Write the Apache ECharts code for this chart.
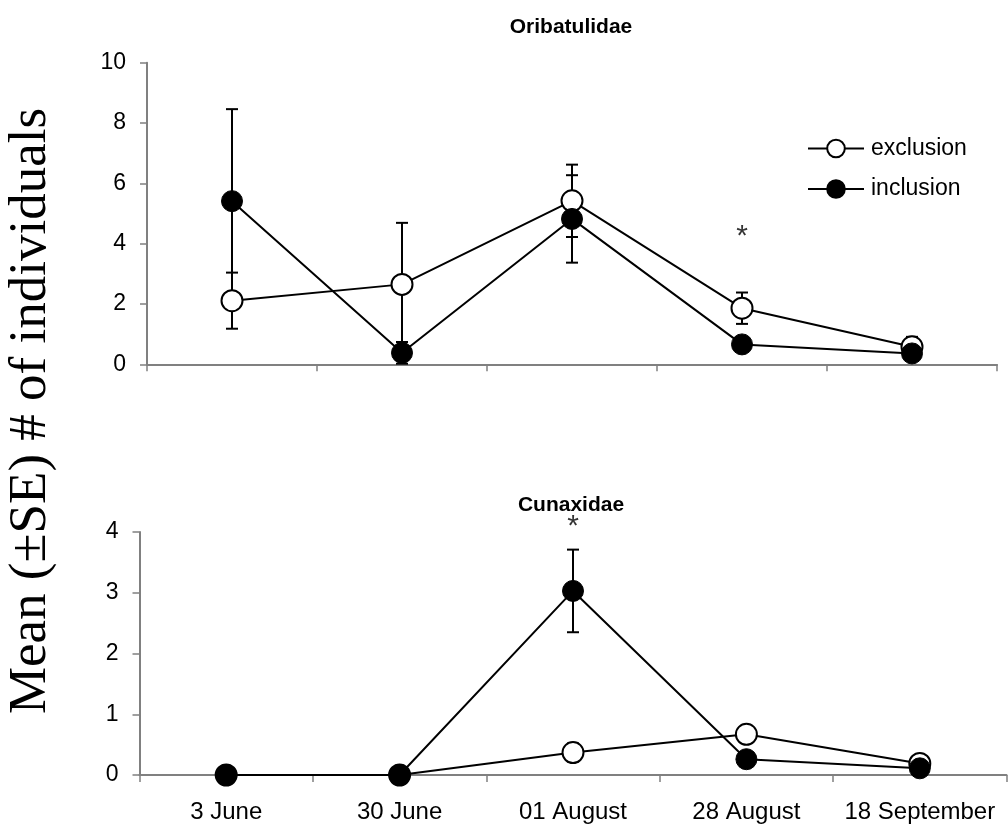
<!DOCTYPE html>
<html>
<head>
<meta charset="utf-8">
<script src="https://cdn.jsdelivr.net/npm/echarts@6/dist/echarts.min.js"></script>
<style>
html,body{margin:0;padding:0;background:#fff;}
#chart{width:1008px;height:827px;}
</style>
</head>
<body>
<div id="chart"></div>
<script>
const categories = ['3 June', '30 June', '01 August', '28 August', '18 September'];
const seriesNames = ['exclusion', 'inclusion'];

const oribExcl   = [2.11, 2.65, 5.42, 1.86, 0.58];
const oribExclSE = [0.93, 2.04, 1.20, 0.52, 0.33];
const oribIncl   = [5.41, 0.38, 4.82, 0.66, 0.36];
const oribInclSE = [3.05, 0.36, 1.45, 0.10, 0.10];

const cunaExcl   = [0, 0, 0.37, 0.67, 0.19];
const cunaExclSE = [0, 0, 0.15, 0.14, 0.05];
const cunaIncl   = [0, 0, 3.03, 0.26, 0.11];
const cunaInclSE = [0, 0, 0.68, 0.12, 0.05];

const oribStar = [null, null, null, 4.45, null];
const cunaStar = [null, null, 4.2, null, null];

const topTicks = [0, 2, 4, 6, 8, 10];
const bottomTicks = [0, 1, 2, 3, 4];

const titles = ['Oribatulidae', 'Cunaxidae'];
const yLabel = 'Mean (\u00B1SE) # of individuals';

const SANS = "'Liberation Sans', Arial, sans-serif";
const SERIF = "'Liberation Serif', 'Times New Roman', serif";
const AXIS_GRAY = '#808080';

function errData(means, se) {
  return means.map((m, i) => [i, m - se[i], m + se[i]]);
}
function errRender(params, api) {
  const x = api.value(0), lo = api.value(1), hi = api.value(2);
  if (hi - lo <= 0) return null;
  const pHi = api.coord([x, hi]);
  const pLo = api.coord([x, lo]);
  const w = 6;
  const st = { stroke: '#000', lineWidth: 2 };
  return {
    type: 'group',
    children: [
      { type: 'line', shape: { x1: pHi[0], y1: pHi[1], x2: pLo[0], y2: pLo[1] }, style: st },
      { type: 'line', shape: { x1: pHi[0] - w, y1: pHi[1], x2: pHi[0] + w, y2: pHi[1] }, style: st },
      { type: 'line', shape: { x1: pLo[0] - w, y1: pLo[1], x2: pLo[0] + w, y2: pLo[1] }, style: st }
    ]
  };
}

const exclStyle = { color: '#fff', borderColor: '#000', borderWidth: 2 };
const inclStyle = { color: '#000', borderColor: '#000', borderWidth: 1 };

function lineSeries(name, data, idx, itemStyle, z) {
  return {
    type: 'line', name: name, data: data,
    xAxisIndex: idx, yAxisIndex: idx,
    symbol: 'circle', symbolSize: 21,
    lineStyle: { color: '#000', width: 2 },
    itemStyle: itemStyle,
    z: z, animation: false, clip: false
  };
}
function errSeries(name, means, se, idx) {
  return {
    type: 'custom', name: name + ' SE', renderItem: errRender,
    data: errData(means, se), xAxisIndex: idx, yAxisIndex: idx,
    z: 1, animation: false, clip: false, silent: true
  };
}
function starSeries(data, idx) {
  return {
    type: 'scatter', data: data, xAxisIndex: idx, yAxisIndex: idx,
    symbolSize: 0, clip: false, silent: true, animation: false,
    label: { show: true, formatter: '*', position: 'inside', color: '#000',
      fontFamily: SANS, fontSize: 30, offset: [0, 7] }
  };
}

function yAxis(idx, ticks) {
  return {
    type: 'value', gridIndex: idx,
    min: ticks[0], max: ticks[ticks.length - 1], interval: ticks[1] - ticks[0],
    axisLine: { show: true, lineStyle: { color: AXIS_GRAY, width: 2 } },
    axisTick: { show: true, length: 7, lineStyle: { color: AXIS_GRAY, width: 1.5 } },
    axisLabel: { color: '#000', fontFamily: SANS, fontSize: 23, margin: 21 },
    splitLine: { show: false }
  };
}
function xAxis(idx, showLabels) {
  return {
    type: 'category', gridIndex: idx, data: categories, boundaryGap: true,
    axisLine: { show: true, lineStyle: { color: AXIS_GRAY, width: 2 } },
    axisTick: { show: true, length: 7, lineStyle: { color: AXIS_GRAY, width: 1.5 } },
    axisLabel: { show: showLabels, color: '#000', fontFamily: SANS, fontSize: 24, margin: 25, interval: 0 },
    splitLine: { show: false }
  };
}

const chart = echarts.init(document.getElementById('chart'), null, { renderer: 'canvas' });
chart.setOption({
  backgroundColor: '#fff',
  animation: false,
  grid: [
    { left: 147, right: 11, top: 62.7, bottom: 462.7 },
    { left: 139.5, right: 1.5, top: 532, bottom: 52 }
  ],
  xAxis: [xAxis(0, false), xAxis(1, true)],
  yAxis: [yAxis(0, topTicks), yAxis(1, bottomTicks)],
  legend: {
    data: seriesNames, orient: 'vertical', left: 807, top: 137, padding: 0,
    itemWidth: 56, itemHeight: 22, itemGap: 17.5,
    textStyle: { color: '#000', fontFamily: SANS, fontSize: 23, lineHeight: 22, padding: [0, 0, 0, 2] },
    selectedMode: false
  },
  graphic: [
    { type: 'text', x: 571, y: 27, style: { text: titles[0], fontFamily: SANS, fontWeight: 'bold', fontSize: 21, fill: '#000', align: 'center', verticalAlign: 'middle' } },
    { type: 'text', x: 571, y: 505, style: { text: titles[1], fontFamily: SANS, fontWeight: 'bold', fontSize: 21, fill: '#000', align: 'center', verticalAlign: 'middle' } },
    { type: 'text', x: 31, y: 411, rotation: Math.PI / 2, style: { text: yLabel, fontFamily: SERIF, fontSize: 53, fill: '#000', align: 'center', verticalAlign: 'middle' } }
  ],
  series: [
    errSeries('inclusion', oribIncl, oribInclSE, 0),
    errSeries('exclusion', oribExcl, oribExclSE, 0),
    lineSeries('exclusion', oribExcl, 0, exclStyle, 2),
    lineSeries('inclusion', oribIncl, 0, inclStyle, 3),
    starSeries(oribStar, 0),
    errSeries('inclusion', cunaIncl, cunaInclSE, 1),
    errSeries('exclusion', cunaExcl, cunaExclSE, 1),
    lineSeries('exclusion', cunaExcl, 1, exclStyle, 2),
    lineSeries('inclusion', cunaIncl, 1, inclStyle, 3),
    starSeries(cunaStar, 1)
  ]
});
</script>
</body>
</html>
